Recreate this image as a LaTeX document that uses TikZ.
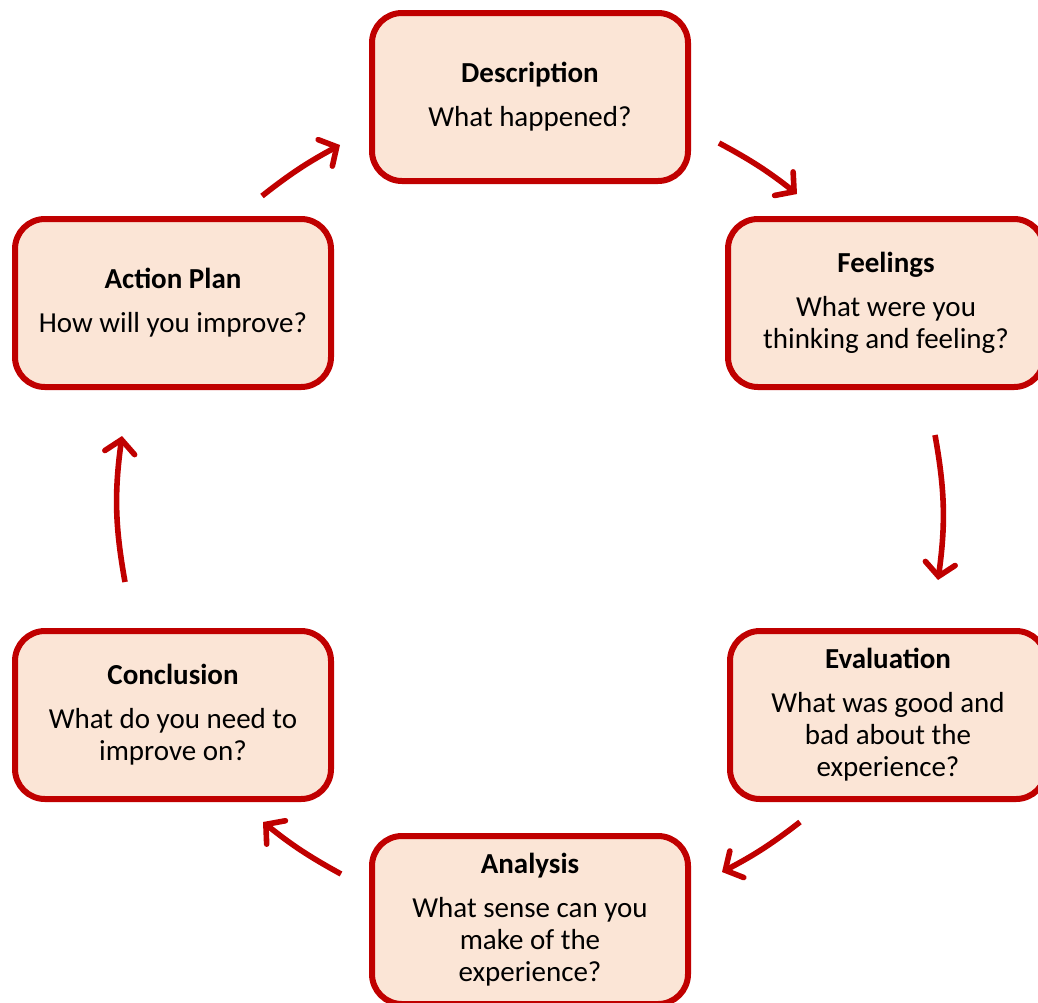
\documentclass[tikz,border=0pt]{standalone}
\usepackage{fontspec}
\setmainfont{Carlito}
\usetikzlibrary{arrows.meta}
\definecolor{boxred}{HTML}{C00000}
\definecolor{boxfill}{HTML}{FBE5D6}
\tikzset{
  stagebox/.style={draw=boxred, fill=boxfill, line width=3pt, rounded corners=15pt,
    minimum width=158pt, minimum height=84pt, align=center, inner sep=0pt,
    font=\fontsize{14.5pt}{16pt}\selectfont},
  cyclearrow/.style={draw=boxred, line width=2.8pt,
    -{Straight Barb[length=6.5pt,width=15pt,line cap=round]}, bend left=9},
}
\newcommand{\stagetitle}[1]{\textbf{#1}\\[6pt]}
\begin{document}
\begin{tikzpicture}[x=0.5pt,y=0.5pt]
\useasboundingbox (0,0) rectangle (1038,-1002);
\clip (0,0) rectangle (1038,-1002);
\node[stagebox] (desc) at (530,-97) {\stagetitle{Description}What happened?};
\node[stagebox] (feel) at (886,-303) {\stagetitle{Feelings}What were you\\thinking and feeling?};
\node[stagebox] (eval) at (888,-715) {\stagetitle{Evaluation}What was good and\\bad about the\\experience?};
\node[stagebox] (anal) at (530,-920) {\stagetitle{Analysis}What sense can you\\make of the\\experience?};
\node[stagebox] (concl) at (173,-715) {\stagetitle{Conclusion}What do you need to\\improve on?};
\node[stagebox] (act) at (173,-303) {\stagetitle{Action Plan}How will you improve?};

\coordinate (a1s) at (719,-143); \coordinate (a1e) at (797,-194);
\coordinate (a2s) at (935,-435); \coordinate (a2e) at (938,-580);
\coordinate (a3s) at (800,-822); \coordinate (a3e) at (722,-872);
\coordinate (a4s) at (341,-874); \coordinate (a4e) at (263,-822);
\coordinate (a5s) at (125,-582); \coordinate (a5e) at (122,-436);
\coordinate (a6s) at (262,-196); \coordinate (a6e) at (340,-145);

\draw[cyclearrow, bend left=5] (a1s) to (a1e);
\draw[cyclearrow] (a2s) to (a2e);
\draw[cyclearrow, bend left=5] (a3s) to (a3e);
\draw[cyclearrow, bend left=5] (a4s) to (a4e);
\draw[cyclearrow] (a5s) to (a5e);
\draw[cyclearrow, bend left=5] (a6s) to (a6e);
\end{tikzpicture}
\end{document}
